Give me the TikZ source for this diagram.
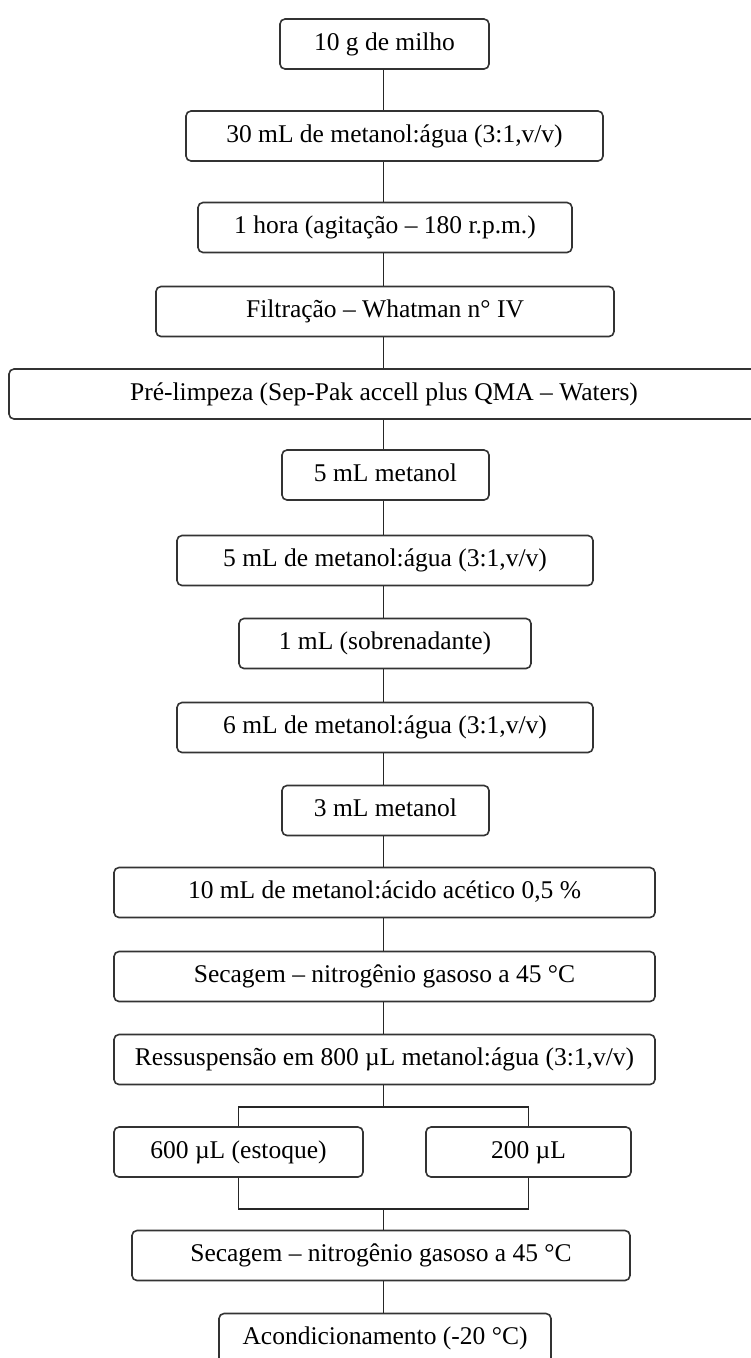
\documentclass[tikz,border=0pt]{standalone}
\usepackage{fontspec}
\setmainfont{Liberation Serif}
\usetikzlibrary{calc}

\begin{document}
\begin{tikzpicture} [x=1pt, y=-1pt, align=center,
  caixa/.style={draw=black!80, line width=1.6pt, rounded corners=5pt, minimum height=50pt, inner sep=0pt, text height=18pt, text depth=6pt, font=\fontsize{25.5}{30}\selectfont},
  liga/.style={draw=black!85, line width=1.6pt}]
\useasboundingbox (0, 0) rectangle (750, 1358);

\path (384.5, 44) node[caixa, minimum width=209pt] (milho) {10 g de milho}
      (394.5, 136) node[caixa, minimum width=417pt] (agua30) {30 mL de metanol:água (3:1,v/v)}
      (385, 227.5) node[caixa, minimum width=374pt] (agita) {1 hora (agitação – 180 r.p.m.)}
      (385, 311.5) node[caixa, minimum width=458pt] (filtra) {Filtração – Whatman n° IV}
      (384, 394) node[caixa, minimum width=750pt] (prelimp) {Pré-limpeza (Sep-Pak accell plus QMA – Waters)}

      (385.5, 475) node[caixa, minimum width=207pt] (met5) {5 mL metanol}
      (385, 560.5) node[caixa, minimum width=416pt] (agua5) {5 mL de metanol:água (3:1,v/v)}
      (385, 643.5) node[caixa, minimum width=292pt] (sobre) {1 mL (sobrenadante)}
      (385, 727.5) node[caixa, minimum width=416pt] (agua6) {6 mL de metanol:água (3:1,v/v)}
      (385.5, 810.5) node[caixa, minimum width=207pt] (met3) {3 mL metanol}

      (384.5, 892.5) node[caixa, minimum width=541pt] (acetico) {10 mL de metanol:ácido acético 0,5 \%}
      (384.5, 976.5) node[caixa, minimum width=541pt] (seca1) {Secagem – nitrogênio gasoso a 45 °C}
      (384.5, 1059.5) node[caixa, minimum width=541pt] (ressus) {Ressuspensão em 800 µL metanol:água (3:1,v/v)}

      (238.5, 1152) node[caixa, minimum width=249pt] (estoque) {600 µL (estoque)}
      (528.5, 1152) node[caixa, minimum width=205pt] (ul200) {200 µL}

      (381, 1255.5) node[caixa, minimum width=498pt] (seca2) {Secagem – nitrogênio gasoso a 45 °C}
      (385, 1338.5) node[caixa, minimum width=332pt] (acond) {Acondicionamento (-20 °C)};

\coordinate (eixo) at (383.5, 0);
\coordinate (divide) at (383.5, 1107);
\coordinate (junta) at (383.5, 1209);

\draw[liga] (milho.south -| eixo) to (agua30.north -| eixo);
\draw[liga] (agua30.south -| eixo) to (agita.north -| eixo);
\draw[liga] (agita.south -| eixo) to (filtra.north -| eixo);
\draw[liga] (filtra.south -| eixo) to (prelimp.north -| eixo);
\draw[liga] (prelimp.south -| eixo) to (met5.north -| eixo);
\draw[liga] (met5.south -| eixo) to (agua5.north -| eixo);
\draw[liga] (agua5.south -| eixo) to (sobre.north -| eixo);
\draw[liga] (sobre.south -| eixo) to (agua6.north -| eixo);
\draw[liga] (agua6.south -| eixo) to (met3.north -| eixo);
\draw[liga] (met3.south -| eixo) to (acetico.north -| eixo);
\draw[liga] (acetico.south -| eixo) to (seca1.north -| eixo);
\draw[liga] (seca1.south -| eixo) to (ressus.north -| eixo);

\draw[liga] (ressus.south -| eixo) to (divide);
\draw[liga] (estoque.north) |- (divide) -| (ul200.north);
\draw[liga] (estoque.south) |- (junta) -| (ul200.south);
\draw[liga] (junta) to (seca2.north -| eixo);
\draw[liga] (seca2.south -| eixo) to (acond.north -| eixo);

\end{tikzpicture}
\end{document}
